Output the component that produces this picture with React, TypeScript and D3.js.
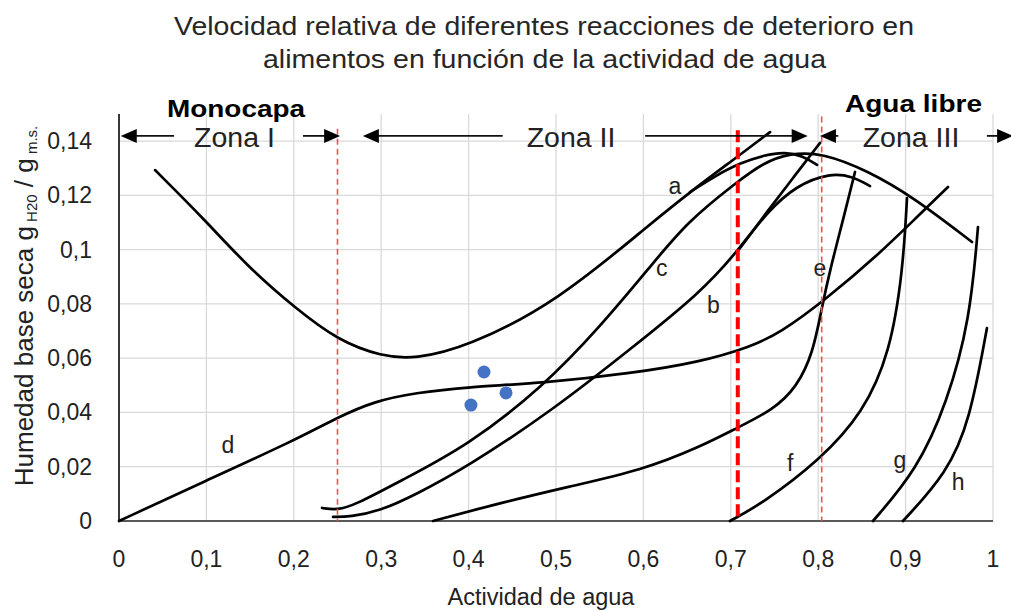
import React from 'react';
import * as d3 from 'd3';

// ---------- DATA ----------
const titleLines = [
  'Velocidad relativa de diferentes reacciones de deterioro en',
  'alimentos en función de la actividad de agua',
];
const xAxisTitle = 'Actividad de agua';

const xTickValues = [0, 0.1, 0.2, 0.3, 0.4, 0.5, 0.6, 0.7, 0.8, 0.9, 1];
const xTickLabels = ['0', '0,1', '0,2', '0,3', '0,4', '0,5', '0,6', '0,7', '0,8', '0,9', '1'];
const yTickValues = [0, 0.02, 0.04, 0.06, 0.08, 0.1, 0.12, 0.14];
const yTickLabels = ['0', '0,02', '0,04', '0,06', '0,08', '0,1', '0,12', '0,14'];

// U-shaped curve
const uX = [0.0412, 0.0984, 0.1476, 0.2014, 0.2506, 0.3009, 0.3387, 0.3982, 0.5011, 0.6076, 0.6533, 0.7025, 0.7449];
const uY = [0.1293, 0.1109, 0.0936, 0.0785, 0.0665, 0.0606, 0.0597, 0.0641, 0.0807, 0.1094, 0.1212, 0.133, 0.1433];
// curve a (branch of the U curve)
const aX = [0.6533, 0.6819, 0.7105, 0.7391, 0.762, 0.7826, 0.7986];
const aY = [0.1212, 0.1271, 0.1319, 0.1349, 0.136, 0.1345, 0.1312];
// curve c
const cX = [0.2323, 0.2494, 0.2700, 0.3215, 0.3982, 0.4851, 0.5503, 0.6076, 0.6499, 0.7071, 0.7368, 0.7677, 0.8055, 0.857, 0.9085, 0.976];
const cY = [0.0048, 0.0040, 0.0059, 0.0147, 0.0276, 0.0494, 0.0715, 0.0936, 0.1102, 0.1249, 0.1319, 0.1356, 0.1356, 0.129, 0.1194, 0.1028];
// curve b
const bX = [0.2449, 0.2643, 0.2986, 0.3387, 0.3982, 0.4966, 0.5881, 0.6648, 0.7071, 0.7414, 0.7757, 0.8135, 0.8387, 0.8593];
const bY = [0.0015, 0.0015, 0.0037, 0.0096, 0.0199, 0.0409, 0.0641, 0.084, 0.0991, 0.1139, 0.1238, 0.1282, 0.1271, 0.1234];
// steep branch of b
const b2X = [0.7071, 0.7414, 0.7712, 0.8021];
const b2Y = [0.0991, 0.1139, 0.1264, 0.1393];
// curve d
const dX = [0, 0.0984, 0.2014, 0.2506, 0.2929, 0.3387, 0.3982, 0.4851, 0.5881, 0.6648, 0.722, 0.7563, 0.8078, 0.8707, 0.913, 0.9485];
const dY = [0, 0.0147, 0.0298, 0.0383, 0.0442, 0.0472, 0.0494, 0.0508, 0.0545, 0.0586, 0.0641, 0.0693, 0.0814, 0.0987, 0.112, 0.1231];
// curve e
const eX = [0.3593, 0.4359, 0.5126, 0.5995, 0.6648, 0.7071, 0.7483, 0.7757, 0.7941, 0.8043, 0.8135, 0.8284, 0.8421];
const eY = [0, 0.0066, 0.0125, 0.0188, 0.0273, 0.0343, 0.0409, 0.0494, 0.0619, 0.0788, 0.0925, 0.1109, 0.1286];
// curve f
const fX = [0.6991, 0.7368, 0.8021, 0.8513, 0.8822, 0.897, 0.9016];
const fY = [0, 0.0066, 0.0225, 0.0398, 0.0619, 0.0925, 0.119];
// curve g
const gX = [0.8627, 0.913, 0.9474, 0.9737, 0.9828];
const gY = [0, 0.0188, 0.0435, 0.0741, 0.1083];
// curve h
const hX = [0.897, 0.9474, 0.9737, 0.9931];
const hY = [0, 0.0177, 0.0372, 0.0711];

// blue points
const dotX = [0.4176, 0.4428, 0.4027];
const dotY = [0.0549, 0.0472, 0.0427];

// curve letters
const letterText = ['a', 'c', 'b', 'd', 'e', 'f', 'g', 'h'];
const letterX = [0.636, 0.621, 0.68, 0.1247, 0.802, 0.768, 0.8936, 0.96];
const letterY = [0.1234, 0.0932, 0.0796, 0.028, 0.0932, 0.0214, 0.0225, 0.0144];

// zone boundaries (red dashed lines)
const zoneLineX = [0.25, 0.708, 0.804];
const zoneLineTop = [0.1445, 0.144, 0.149];

// zone arrows: tail -> head
const arrowFrom = [0.063, 0.2105, 0.439, 0.602, 0.823, 0.993];
const arrowTo = [0.002, 0.253, 0.279, 0.788, 0.802, 1.023];
const arrowLevel = 0.1419;

const zoneNames = ['Zona I', 'Zona II', 'Zona III'];
const zoneCenterX = [0.1321, 0.5172, 0.9062];
const zoneLabelY = 0.1378;

const FONT = '"Liberation Sans", Arial, Helvetica, sans-serif';

export default function App() {
  const W = 1011;
  const H = 611;
  const x = d3.scaleLinear().domain([0, 1]).range([119, 993]);
  const y = d3.scaleLinear().domain([0, 0.15]).range([521, 521 - 0.15 * 2714]);

  const line = d3
    .line<[number, number]>()
    .x((d) => x(d[0]))
    .y((d) => y(d[1]))
    .curve(d3.curveBasis);

  const zip = (xs: number[], ys: number[]) => xs.map((v, i) => [v, ys[i]] as [number, number]);
  const curves = [
    zip(uX, uY),
    zip(aX, aY),
    zip(cX, cY),
    zip(bX, bY),
    zip(b2X, b2Y),
    zip(dX, dY),
    zip(eX, eY),
    zip(fX, fY),
    zip(gX, gY),
    zip(hX, hY),
  ];

  const gridV = xTickValues.filter((v) => v > 0);
  const gridH = yTickValues.filter((v) => v > 0);
  const yTop = y(0.15);

  const headL = 16;
  const headH = 7;

  return (
    <svg
      width={W}
      height={H}
      viewBox={`0 0 ${W} ${H}`}
      style={{ position: 'absolute', left: 0, top: 0, background: '#fff' }}
      fontFamily={FONT}
    >
      <rect x={0} y={0} width={W} height={H} fill="#fff" />

      {/* title */}
      <text x={174} y={35} fontSize={26} fill="#262626" textLength={740} lengthAdjust="spacingAndGlyphs">
        {titleLines[0]}
      </text>
      <text x={263} y={68} fontSize={26} fill="#262626" textLength={563} lengthAdjust="spacingAndGlyphs">
        {titleLines[1]}
      </text>

      {/* gridlines */}
      {gridV.map((v) => (
        <line key={'gv' + v} x1={x(v)} x2={x(v)} y1={yTop} y2={y(0)} stroke="#d9d9d9" strokeWidth={1.3} />
      ))}
      {gridH.map((v) => (
        <line key={'gh' + v} x1={x(0)} x2={x(1)} y1={y(v)} y2={y(v)} stroke="#d9d9d9" strokeWidth={1.3} />
      ))}

      {/* axes */}
      <line x1={x(0)} x2={x(0)} y1={yTop} y2={y(0)} stroke="#222" strokeWidth={1.8} />
      <line x1={x(0)} x2={x(1)} y1={y(0)} y2={y(0)} stroke="#595959" strokeWidth={2.2} />

      {/* tick labels */}
      {yTickValues.map((v, i) => (
        <text key={'yt' + i} x={92} y={y(v) + 8} fontSize={23} textAnchor="end" fill="#222">
          {yTickLabels[i]}
        </text>
      ))}
      {xTickValues.map((v, i) => (
        <text key={'xt' + i} x={x(v)} y={567} fontSize={23} textAnchor="middle" fill="#222">
          {xTickLabels[i]}
        </text>
      ))}

      {/* axis titles */}
      <text x={541} y={605} fontSize={23.5} textAnchor="middle" fill="#222">
        {xAxisTitle}
      </text>
      <text transform="translate(33,306) rotate(-90)" fontSize={26} textAnchor="middle" fill="#222">
        Humedad base seca g
        <tspan fontSize={15} dy={4}> H20</tspan>
        <tspan dy={-4}> / g</tspan>
        <tspan fontSize={15} dy={4}> m.s.</tspan>
      </text>

      {/* curves */}
      {curves.map((c, i) => (
        <path key={'c' + i} d={line(c) || ''} fill="none" stroke="#000" strokeWidth={2.7} strokeLinecap="round" />
      ))}

      {/* blue points */}
      {dotX.map((v, i) => (
        <circle key={'p' + i} cx={x(v)} cy={y(dotY[i])} r={6.5} fill="#4472C4" />
      ))}

      {/* zone boundary lines */}
      {zoneLineX.map((v, i) => (
        <line
          key={'z' + i}
          x1={x(v)}
          x2={x(v)}
          y1={y(zoneLineTop[i])}
          y2={y(0)}
          stroke={i === 1 ? '#ff0000' : '#ff4d4d'}
          strokeWidth={i === 1 ? 4 : 1.6}
          strokeDasharray={i === 1 ? '12,5' : '6,4'}
        />
      ))}

      {/* curve letters */}
      {letterText.map((t, i) => (
        <text
          key={'l' + i}
          x={x(letterX[i])}
          y={y(letterY[i])}
          fontSize={23}
          textAnchor="middle"
          dominantBaseline="central"
          fill="#222"
        >
          {t}
        </text>
      ))}

      {/* zone arrows */}
      {arrowFrom.map((f, i) => {
        const tx = x(arrowTo[i]);
        const fx = x(f);
        const ty = y(arrowLevel);
        const dir = Math.sign(tx - fx);
        const base = tx - dir * headL;
        return (
          <g key={'a' + i}>
            <line x1={fx} x2={base + dir * 2} y1={ty} y2={ty} stroke="#111" strokeWidth={1.8} />
            <polygon points={`${tx},${ty} ${base},${ty - headH} ${base},${ty + headH}`} fill="#000" />
          </g>
        );
      })}

      {/* zone labels */}
      {zoneNames.map((n, i) => (
        <text key={'zn' + i} x={x(zoneCenterX[i])} y={y(zoneLabelY)} fontSize={28.5} textAnchor="middle" fill="#222">
          {n}
        </text>
      ))}
      <text x={167} y={117} fontSize={24} fontWeight="bold" fill="#000" textLength={138} lengthAdjust="spacingAndGlyphs">
        Monocapa
      </text>
      <text x={845} y={112} fontSize={24} fontWeight="bold" fill="#000" textLength={137} lengthAdjust="spacingAndGlyphs">
        Agua libre
      </text>
    </svg>
  );
}
